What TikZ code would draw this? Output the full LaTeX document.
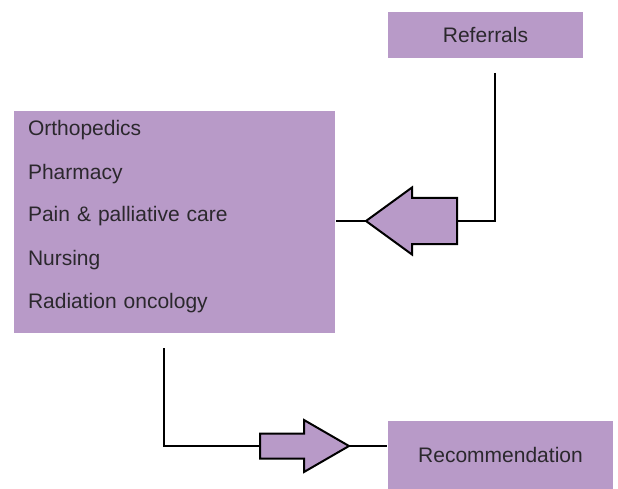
\documentclass[tikz,border=0pt]{standalone}
\usepackage{fontspec}
\setmainfont{Liberation Sans}
\usetikzlibrary{positioning}
\definecolor{boxfill}{HTML}{B89AC8}
\definecolor{boxtext}{HTML}{2B282D}

\begin{document}
\begin{tikzpicture}[x=1pt,y=-1pt,line width=2pt,node distance=43pt,
    box node/.style={fill=boxfill,text=boxtext,inner sep=0pt,font=\fontsize{21}{25}\selectfont},
    item node/.style={text=boxtext,inner sep=0pt,text width=280pt,align=left,
      text height=15pt,text depth=5pt,font=\fontsize{21}{25}\selectfont},
    block arrow/.style={draw=black,fill=boxfill,line join=miter},
    connector/.style={draw=black,line cap=butt}]

\useasboundingbox (0,0) rectangle (618,489);

\node[box node,minimum width=195pt,minimum height=46pt] (ref) at (485.5,35) {Referrals};
\node[box node,minimum width=321pt,minimum height=222pt] (team) at (174.5,222) {};
\node[box node,minimum width=225pt,minimum height=68pt] (rec) at (500.5,455) {Recommendation};

\node[item node] (ortho) at (168,131) {Orthopedics};
\node[item node] (pharm) [below of=ortho] {Pharmacy};
\node[item node] (pain) [below of=pharm] {Pain \& palliative care};
\node[item node] (nurse) [below of=pain] {Nursing};
\node[item node] (radio) [below of=nurse] {Radiation oncology};

% block arrows
\draw[block arrow] (457,198) -- (412,198) -- (412,187.5) -- (366,221)
  -- (412,254.5) -- (412,244) -- (457,244) -- cycle;
\coordinate (tail1) at (457,221);
\coordinate (tip1) at (366,221);

\draw[block arrow] (260,433.5) -- (304,433.5) -- (304,420) -- (349,446)
  -- (304,472) -- (304,458.5) -- (260,458.5) -- cycle;
\coordinate (tail2) at (260,446);
\coordinate (tip2) at (349,446);

% connectors
\draw[connector] ([xshift=9.5pt,yshift=-14pt]ref.south) |- (tail1);
\draw[connector] (tip1) -- (tip1 -| team.east);
\draw[connector] ([xshift=-10.5pt,yshift=-14pt]team.south) |- (tail2);
\draw[connector] (tip2) -- (tip2 -| rec.west);

\end{tikzpicture}
\end{document}
